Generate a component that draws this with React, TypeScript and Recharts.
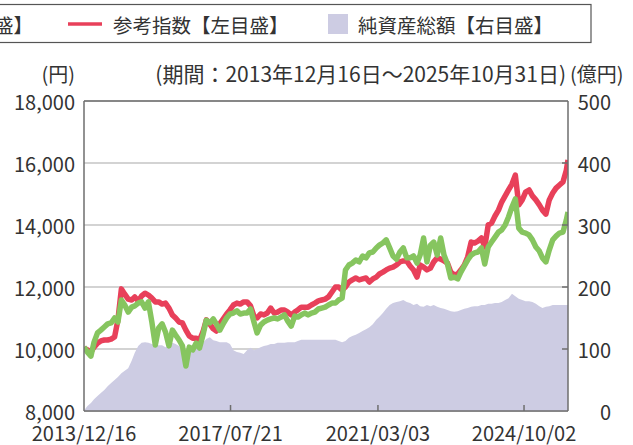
import React from 'react';
import { ComposedChart, Line, Area, XAxis, YAxis, CartesianGrid, ReferenceLine } from 'recharts';

const dates = [
  '2013/12/16',
  '2014/01/16','2014/02/16','2014/03/16','2014/04/16','2014/05/16','2014/06/16','2014/07/16','2014/08/16','2014/09/16','2014/10/16','2014/11/16','2014/12/16',
  '2015/01/16','2015/02/16','2015/03/16','2015/04/16','2015/05/16','2015/06/16','2015/07/16','2015/08/16','2015/09/16','2015/10/16','2015/11/16','2015/12/16',
  '2016/01/16','2016/02/16','2016/03/16','2016/04/16','2016/05/16','2016/06/16','2016/07/16','2016/08/16','2016/09/16','2016/10/16','2016/11/16','2016/12/16',
  '2017/01/16','2017/02/16','2017/03/16','2017/04/16','2017/05/16','2017/06/16','2017/07/16','2017/08/16','2017/09/16','2017/10/16','2017/11/16','2017/12/16',
  '2018/01/16','2018/02/16','2018/03/16','2018/04/16','2018/05/16','2018/06/16','2018/07/16','2018/08/16','2018/09/16','2018/10/16','2018/11/16','2018/12/16',
  '2019/01/16','2019/02/16','2019/03/16','2019/04/16','2019/05/16','2019/06/16','2019/07/16','2019/08/16','2019/09/16','2019/10/16','2019/11/16','2019/12/16',
  '2020/01/16','2020/02/16','2020/03/16','2020/04/16','2020/05/16','2020/06/16','2020/07/16','2020/08/16','2020/09/16','2020/10/16','2020/11/16','2020/12/16',
  '2021/01/16','2021/02/16','2021/03/16','2021/04/16','2021/05/16','2021/06/16','2021/07/16','2021/08/16','2021/09/16','2021/10/16','2021/11/16','2021/12/16',
  '2022/01/16','2022/02/16','2022/03/16','2022/04/16','2022/05/16','2022/06/16','2022/07/16','2022/08/16','2022/09/16','2022/10/16','2022/11/16','2022/12/16',
  '2023/01/16','2023/02/16','2023/03/16','2023/04/16','2023/05/16','2023/06/16','2023/07/16','2023/08/16','2023/09/16','2023/10/16','2023/11/16','2023/12/16',
  '2024/01/16','2024/02/16','2024/03/16','2024/04/16','2024/05/16','2024/06/16','2024/07/16','2024/08/16','2024/09/16','2024/10/16','2024/11/16','2024/12/16',
  '2025/01/16','2025/02/16','2025/03/16','2025/04/16','2025/05/16','2025/06/16','2025/07/16','2025/08/16','2025/09/16','2025/10/16',
  '2025/10/31',
];

// 基準価額（円）
const fundValues = [
  10060, 9900, 9770, 10220, 10520, 10610, 10710, 10810, 10840, 11000,
  10870, 11580, 11420, 11190, 11350, 11390, 11480, 11520, 11320, 11520,
  10870, 10130, 10680, 10810, 10550, 10100, 10610, 10450, 10290, 10100,
  9450, 10060, 9970, 10190, 10030, 10450, 10930, 10840, 10970, 10810,
  10610, 10810, 11000, 11130, 11160, 11230, 11130, 11160, 11160, 11290,
  10870, 10520, 10770, 10870, 10930, 10970, 11000, 10970, 11030, 11100,
  10900, 10740, 11060, 11030, 11100, 11160, 11100, 11160, 11190, 11290,
  11320, 11350, 11420, 11480, 11480, 11580, 11640, 12550, 12710, 12770,
  12870, 12810, 13000, 12940, 13100, 13130, 13260, 13350, 13420, 13520,
  13260, 13000, 12900, 13130, 13260, 12940, 12940, 13000, 12770, 13030,
  13580, 12810, 13350, 13450, 13030, 13580, 13030, 12740, 12290, 12320,
  12260, 12480, 12680, 12870, 13030, 13100, 13130, 13260, 12740, 13290,
  13450, 13610, 13770, 13840, 14000, 14260, 14580, 14840, 13900, 13770,
  13740, 13680, 13520, 13290, 13160, 12940, 12810, 13190, 13520, 13640,
  13740, 13770, 14160, 14420,
];

// 参考指数（円）
const indexValues = [
  10030, 9970, 9900, 10060, 10190, 10260, 10290, 10290, 10320, 10390,
  10940, 11940, 11770, 11610, 11580, 11680, 11550, 11710, 11800, 11740,
  11640, 11520, 11520, 11450, 11480, 11320, 11100, 11000, 10870, 10840,
  10610, 10420, 10350, 10350, 10290, 10550, 10940, 10810, 10650, 10580,
  10810, 10970, 11130, 11260, 11420, 11480, 11450, 11520, 11520, 11390,
  11060, 11000, 11130, 11100, 11160, 11320, 11160, 11190, 11260, 11260,
  11190, 11100, 11190, 11260, 11350, 11350, 11350, 11420, 11480, 11550,
  11580, 11610, 11680, 11840, 12000, 12000, 11900, 12000, 12160, 12230,
  12290, 12230, 12260, 12290, 12160, 12260, 12320, 12420, 12480, 12550,
  12610, 12640, 12710, 12810, 12840, 12840, 12680, 12550, 12320, 12710,
  12640, 12550, 12610, 12810, 12940, 12900, 12840, 12770, 12480, 12390,
  12420, 12550, 12710, 12970, 13450, 13420, 13480, 13580, 13290, 14000,
  14060, 14290, 14480, 14740, 14940, 15130, 15320, 15610, 14650, 14810,
  15060, 15130, 14940, 14810, 14650, 14480, 14350, 14810, 15030, 15190,
  15290, 15390, 15770, 16100,
];

// 純資産総額（億円）
const netAssets = [
  1, 8, 13, 19, 24, 29, 34, 40, 45, 50,
  55, 61, 65, 69, 81, 94, 105, 110, 111, 110,
  108, 106, 106, 106, 103, 105, 110, 108, 105, 102,
  98, 95, 97, 102, 105, 110, 116, 119, 114, 113,
  111, 111, 111, 108, 98, 95, 94, 92, 98, 102,
  98, 100, 103, 105, 106, 108, 108, 110, 110, 110,
  111, 111, 111, 113, 115, 115, 115, 115, 115, 115,
  115, 115, 115, 115, 115, 113, 111, 113, 118, 121,
  123, 126, 129, 132, 135, 140, 147, 152, 158, 165,
  171, 174, 176, 177, 179, 176, 174, 171, 173, 169,
  168, 171, 169, 171, 168, 166, 165, 163, 161, 160,
  161, 163, 165, 166, 168, 169, 169, 171, 171, 173,
  173, 174, 174, 176, 179, 182, 189, 185, 181, 179,
  177, 177, 176, 173, 169, 166, 168, 169, 171, 171,
  171, 171, 171, 171,
];

const xTickLabels = ['2013/12/16', '2017/07/21', '2021/03/03', '2024/10/02'];
const leftTicks = [8000, 10000, 12000, 14000, 16000, 18000];
const rightTicks = [0, 100, 200, 300, 400, 500];

const legendLabels = ['基準価額【左目盛】', '参考指数【左目盛】', '純資産総額【右目盛】'];
const COLOR_FUND = '#86c55f';
const COLOR_INDEX = '#e8405a';
const COLOR_ASSETS = '#cdcce3';

const toTime = (s: string) => {
  const [y, m, d] = s.split('/').map(Number);
  return Date.UTC(y, m - 1, d);
};

const data = dates.map((d, i) => ({
  t: toTime(d),
  fund: fundValues[i],
  index: indexValues[i],
  assets: netAssets[i],
}));

const W = 633;
const H = 445;
const PLOT_LEFT = 84;
const PLOT_RIGHT = 568;
const PLOT_TOP = 101;
const PLOT_BOTTOM = 411;
const FONT = "'Noto Sans CJK JP', 'Noto Sans', sans-serif";
const TEXT = '#333';
const AXIS = '#6e6e6e';

const fmtDate = (t: number) => {
  const d = new Date(t);
  const p = (n: number) => String(n).padStart(2, '0');
  return `${d.getUTCFullYear()}/${p(d.getUTCMonth() + 1)}/${p(d.getUTCDate())}`;
};

const XTick = (props: any) => {
  const { x, payload } = props;
  const first = payload.value === toTime(xTickLabels[0]);
  return (
    <g>
      {!first && <line x1={x} x2={x} y1={PLOT_BOTTOM} y2={PLOT_BOTTOM - 6} stroke={AXIS} strokeWidth={1.5} />}
      <text x={x} y={PLOT_BOTTOM + 21} textAnchor="middle" dominantBaseline="central" fontSize={20} fill={TEXT} fontFamily={FONT}>
        {fmtDate(payload.value)}
      </text>
    </g>
  );
};

const LeftTick = (props: any) => {
  const { y, payload } = props;
  return (
    <text x={PLOT_LEFT - 9} y={y} textAnchor="end" dominantBaseline="central" fontSize={20} fill={TEXT} fontFamily={FONT}>
      {Number(payload.value).toLocaleString('en-US')}
    </text>
  );
};

const RightTick = (props: any) => {
  const { y, payload } = props;
  const v = Number(payload.value);
  return (
    <g>
      {v !== 0 && v !== 500 && (
        <line x1={PLOT_RIGHT} x2={PLOT_RIGHT - 6} y1={y} y2={y} stroke={AXIS} strokeWidth={1.5} />
      )}
      <text x={PLOT_RIGHT + 43} y={y} textAnchor="end" dominantBaseline="central" fontSize={20} fill={TEXT} fontFamily={FONT}>
        {v}
      </text>
    </g>
  );
};

const Overlay = () => {
  const fs = 19.5;
  const cy = 24;
  return (
    <svg width={W} height={H} style={{ position: 'absolute', left: 0, top: 0, pointerEvents: 'none' }}>
      <rect x={-260} y={4.5} width={851} height={38} fill="#fff" stroke="#555" strokeWidth={1.2} />
      {/* item 1 (clipped at the left edge) */}
      <line x1={-178} x2={-143} y1={cy} y2={cy} stroke={COLOR_FUND} strokeWidth={3.5} />
      <text x={33} y={cy} textAnchor="end" dominantBaseline="central" fontSize={fs} fill={TEXT} fontFamily={FONT}>
        {legendLabels[0]}
      </text>
      {/* item 2 */}
      <line x1={68} x2={102} y1={cy} y2={cy} stroke={COLOR_INDEX} strokeWidth={3.5} />
      <text x={113} y={cy} dominantBaseline="central" fontSize={fs} fill={TEXT} fontFamily={FONT}>
        {legendLabels[1]}
      </text>
      {/* item 3 */}
      <rect x={328} y={cy - 10} width={20} height={20} fill={COLOR_ASSETS} />
      <text x={358} y={cy} dominantBaseline="central" fontSize={fs} fill={TEXT} fontFamily={FONT}>
        {legendLabels[2]}
      </text>
      <text x={75} y={73} textAnchor="end" dominantBaseline="central" fontSize={20} fill={TEXT} fontFamily={FONT}>(円)</text>
      <text x={566} y={73} textAnchor="end" dominantBaseline="central" fontSize={21} fill={TEXT} fontFamily={FONT}>
        (期間：2013年12月16日～2025年10月31日)
      </text>
      <text x={570} y={73} textAnchor="start" dominantBaseline="central" fontSize={20} fill={TEXT} fontFamily={FONT}>(億円)</text>
    </svg>
  );
};

export default function App() {
  const t0 = toTime(dates[0]);
  const tEnd = toTime(dates[dates.length - 1]);
  return (
    <div style={{ position: 'absolute', left: 0, top: 0, width: W, height: H, background: '#fff', overflow: 'hidden' }}>
      <ComposedChart
        width={W}
        height={H}
        data={data}
        margin={{ top: PLOT_TOP, right: W - PLOT_RIGHT - 46, bottom: H - PLOT_BOTTOM - 30, left: PLOT_LEFT - 60 }}
        style={{ fontFamily: FONT }}
      >
        <CartesianGrid yAxisId="left" vertical={false} stroke="#c4c4c4" strokeWidth={1.5} />
        <XAxis
          dataKey="t"
          type="number"
          domain={[t0, tEnd]}
          ticks={xTickLabels.map(toTime)}
          tick={<XTick />}
          tickLine={false}
          axisLine={{ stroke: AXIS, strokeWidth: 1.5 }}
          height={30}
          interval={0}
          allowDataOverflow
        />
        <YAxis
          yAxisId="left"
          domain={[8000, 18000]}
          ticks={leftTicks}
          tick={<LeftTick />}
          tickLine={false}
          axisLine={{ stroke: AXIS, strokeWidth: 1.5 }}
          width={60}
          interval={0}
        />
        <YAxis
          yAxisId="right"
          orientation="right"
          domain={[0, 500]}
          ticks={rightTicks}
          tick={<RightTick />}
          tickLine={false}
          axisLine={{ stroke: AXIS, strokeWidth: 1.5 }}
          width={46}
          interval={0}
        />
        <Area
          yAxisId="right"
          dataKey="assets"
          type="linear"
          stroke="none"
          fill={COLOR_ASSETS}
          fillOpacity={1}
          isAnimationActive={false}
        />
        <Line yAxisId="left" dataKey="index" type="linear" stroke={COLOR_INDEX} strokeWidth={5.5} strokeLinejoin="round" dot={false} isAnimationActive={false} />
        <Line yAxisId="left" dataKey="fund" type="linear" stroke={COLOR_FUND} strokeWidth={5.5} strokeLinejoin="round" dot={false} isAnimationActive={false} />
        <ReferenceLine yAxisId="left" y={18000} stroke={AXIS} strokeWidth={1.5} />
      </ComposedChart>
      <Overlay />
    </div>
  );
}
